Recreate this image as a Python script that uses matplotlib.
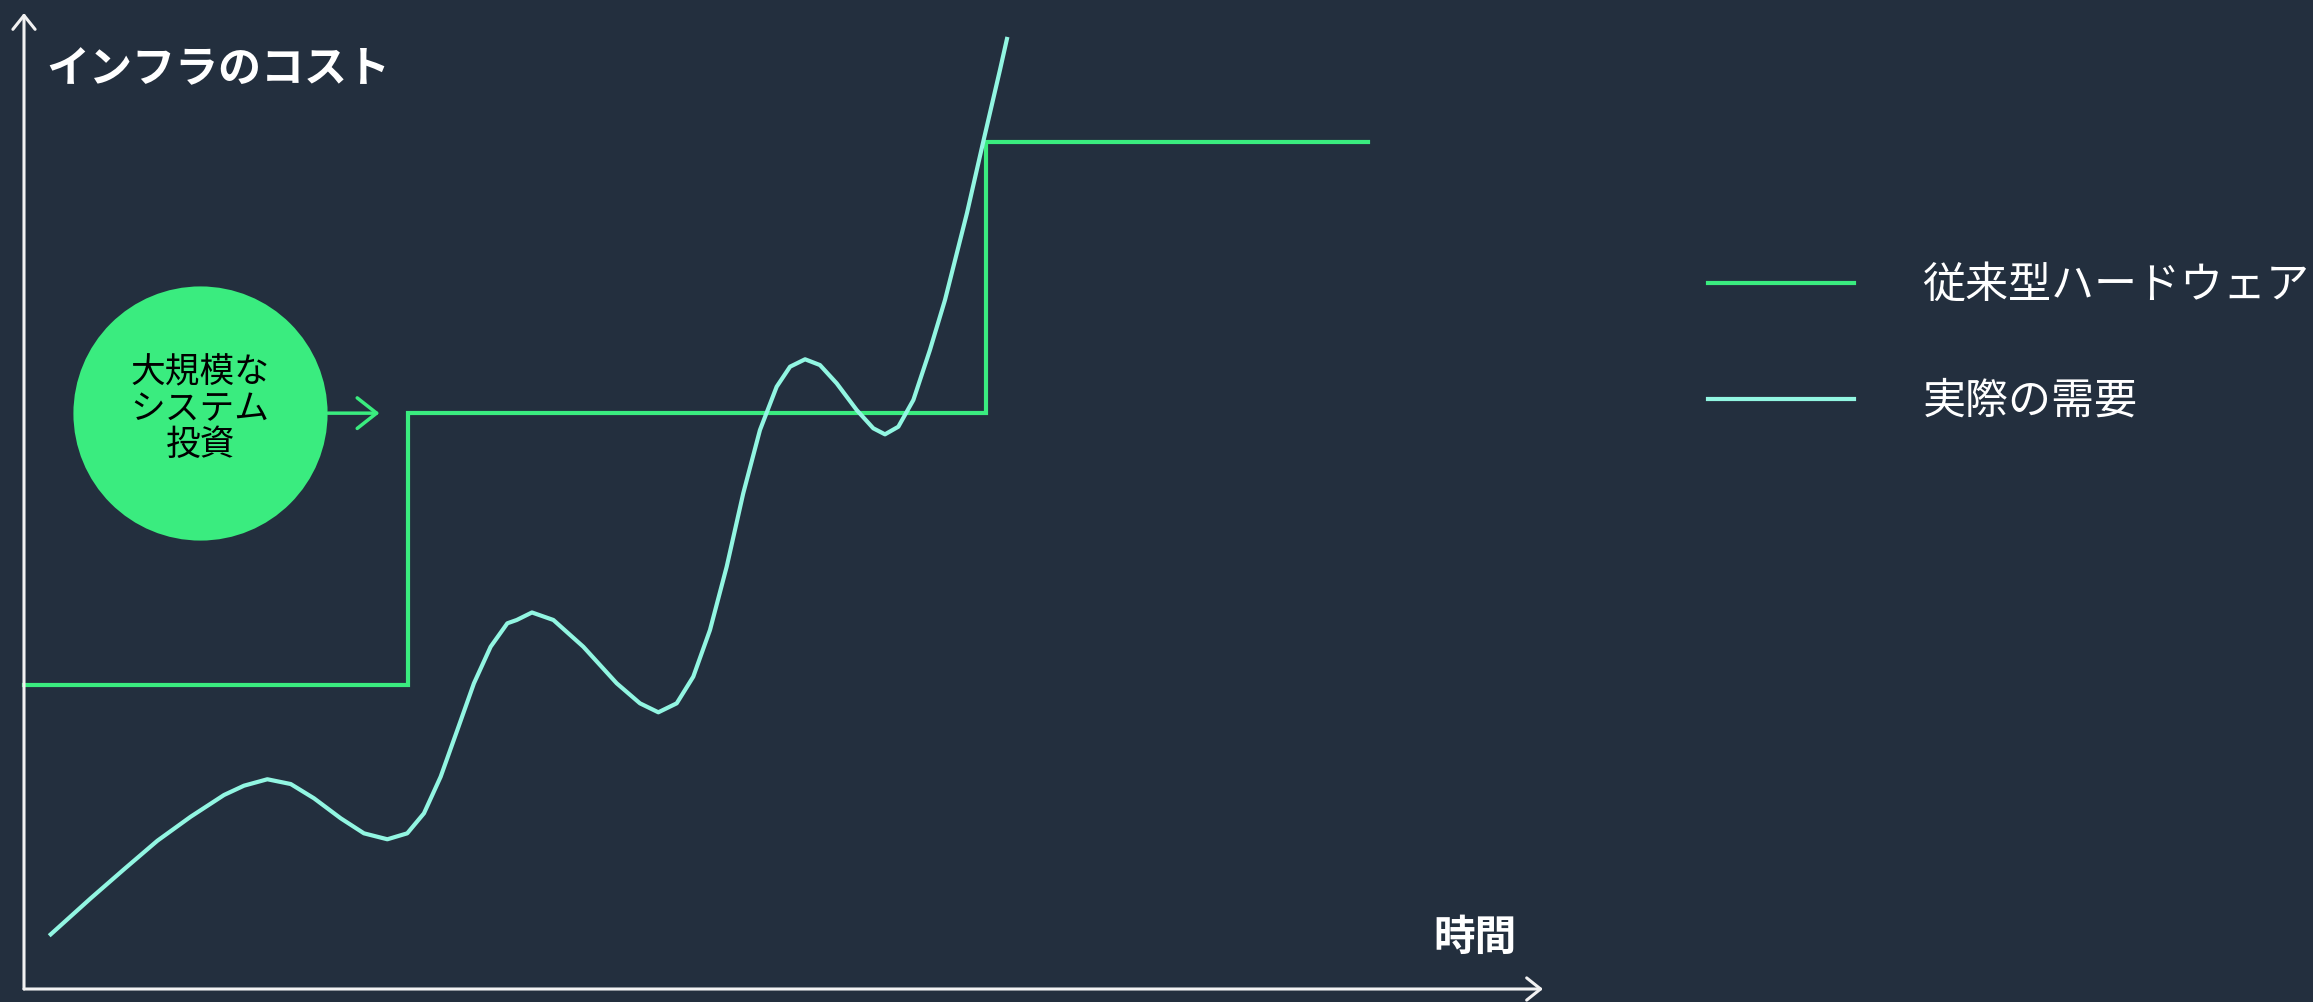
import matplotlib
matplotlib.use('Agg')
import matplotlib.pyplot as plt

plt.rcParams['font.family'] = ['Noto Sans CJK JP', 'DejaVu Sans']

BG = '#232F3E'
GREEN = '#3AEC7F'
CYAN = '#92F6E2'
AXIS = '#F2F2F2'

# traditional hardware capacity (step)
hw_x = [0, 25.3, 63.3, 88.5]
hw_y = [31.1, 59.0, 86.8, 86.8]

# actual demand
demand_x = [1.76, 4.39, 6.58, 8.78, 10.97, 13.17, 14.48, 16.02, 17.56, 19.09,
            20.85, 22.38, 23.92, 25.23, 26.33, 27.43, 28.53, 29.62, 30.72, 31.82,
            32.44, 33.44, 34.85, 36.82, 39.02, 40.55, 41.76, 42.97, 44.06, 45.16,
            46.26, 47.35, 48.45, 49.55, 50.43, 51.42, 52.40, 53.50, 54.82, 55.91,
            56.68, 57.56, 58.55, 59.64, 60.63, 62.08, 63.13, 64.25, 64.71]
demand_y = [5.60, 9.29, 12.26, 15.19, 17.65, 19.88, 20.83, 21.49, 21.00, 19.54,
            17.49, 15.95, 15.34, 15.95, 18.00, 21.75, 26.54, 31.32, 35.07, 37.47,
            37.81, 38.58, 37.81, 35.07, 31.32, 29.27, 28.35, 29.27, 32.00, 36.78,
            43.27, 50.79, 57.27, 61.71, 63.76, 64.52, 63.93, 62.06, 59.32, 57.45,
            56.83, 57.61, 60.35, 65.47, 70.59, 79.51, 86.68, 94.16, 97.34]

labels = ['従来型ハードウェア', '実際の需要']
y_title = 'インフラのコスト'
x_title = '時間'
bubble_text = '大規模な\nシステム\n投資'
bubble_pos = (11.6, 59.0)

fig = plt.figure(figsize=(23.13, 10.02), dpi=100, facecolor=BG)
ax = fig.add_axes([24 / 2313, 13 / 1002, 1519 / 2313, 976 / 1002])
ax.set_facecolor(BG)
ax.set_xlim(0, 100)
ax.set_ylim(0, 100)
for s in ax.spines.values():
    s.set_visible(False)
ax.set_xticks([])
ax.set_yticks([])

# axes with arrows
arrow = dict(arrowstyle='->,head_length=0.5,head_width=0.4', color=AXIS, lw=2.2,
             shrinkA=0, shrinkB=0, mutation_scale=20)
ax.annotate('', xy=(1, 0), xytext=(0, 0), xycoords='axes fraction', arrowprops=arrow)
ax.annotate('', xy=(0, 1), xytext=(0, 0), xycoords='axes fraction', arrowprops=arrow)

hw_line, = ax.plot(hw_x, hw_y, drawstyle='steps-post', color=GREEN, lw=3,
                   solid_joinstyle='miter', clip_on=False, label=labels[0])
dem_line, = ax.plot(demand_x, demand_y, color=CYAN, lw=3, solid_joinstyle='round',
                    clip_on=False, label=labels[1])

# bubble
ax.scatter([bubble_pos[0]], [bubble_pos[1]], s=183 ** 2, color=GREEN, zorder=3,
           linewidths=0, clip_on=False)
ax.text(bubble_pos[0], bubble_pos[1] + 0.4, bubble_text, ha='center', va='center',
        fontsize=25, color='black', linespacing=1.05, zorder=4)
ax.annotate('', xy=(23.4, bubble_pos[1]), xytext=(20.0, bubble_pos[1]),
            arrowprops=dict(arrowstyle='->,head_length=0.7,head_width=0.55', color=GREEN,
                            lw=2.5, shrinkA=0, shrinkB=0, mutation_scale=20))

ax.text(1.5, 94.2, y_title, ha='left', va='center', fontsize=31, fontweight='bold',
        color='white')
ax.text(95.5, 5.2, x_title, ha='center', va='center', fontsize=30, fontweight='bold',
        color='white')

leg = ax.legend(handles=[hw_line, dem_line], loc='upper left',
                bbox_to_anchor=(1708 / 2313, 1 - 264 / 1002), bbox_transform=fig.transFigure,
                frameon=False, fontsize=31, handlelength=3.4, handletextpad=1.58,
                labelspacing=1.67, borderpad=0, borderaxespad=0)
for t in leg.get_texts():
    t.set_color('white')

fig.savefig('out.png', dpi=100, facecolor=BG)
